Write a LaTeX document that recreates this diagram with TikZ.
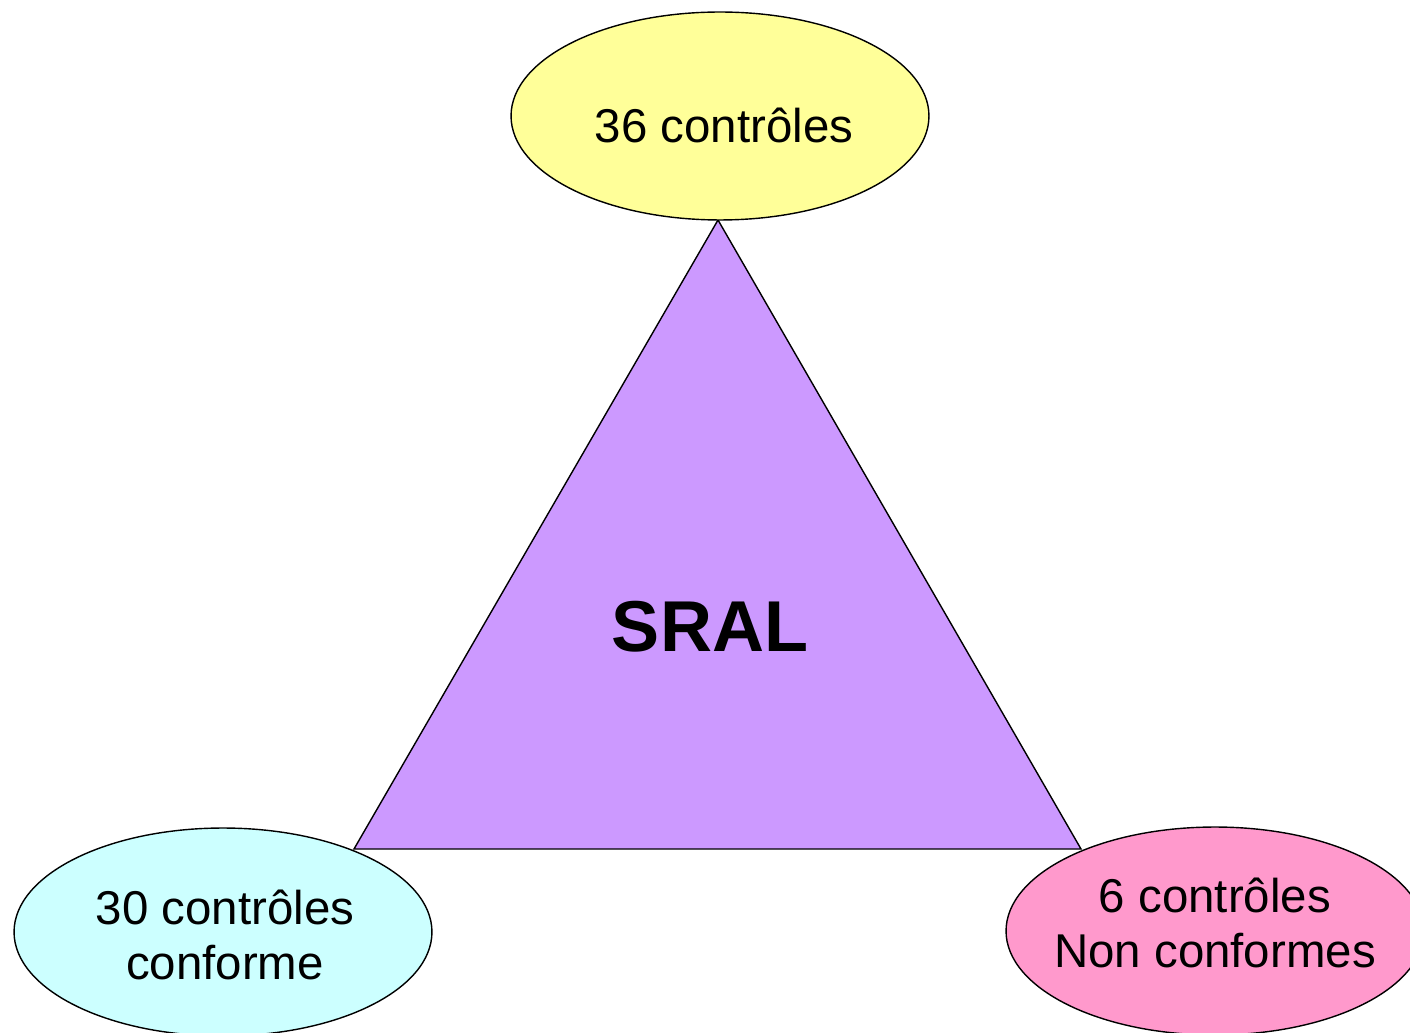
\documentclass[tikz,border=0pt]{standalone}
\usepackage{fontspec}
\setmainfont{Liberation Sans}
\usetikzlibrary{shapes.geometric}
\definecolor{topfill}{HTML}{FFFF99}
\definecolor{okfill}{HTML}{CCFFFF}
\definecolor{kofill}{HTML}{FF99CC}
\definecolor{sralfill}{HTML}{CC99FF}

\tikzset{
  bubble/.style={ellipse, draw, line width=0.8pt, inner sep=0pt,
    minimum width=8.36cm, minimum height=4.16cm},
  bubbletext/.style={align=center, inner sep=0pt,
    font=\fontsize{27}{31}\selectfont}
}

\begin{document}
\begin{tikzpicture}[x={(0.02cm,0)}, y={(0,-0.02cm)}]
    \useasboundingbox (0,0) rectangle (1410,1033);
    \clip (0,0) rectangle (1410,1033);
    \coordinate (apex) at (718,220);
    \coordinate (left) at (354,849);
    \coordinate (right) at (1081,849);
    \filldraw [sralfill, draw=black, line width=0.8pt] (apex) -- (left) -- (right) -- cycle;
    \node (sral) at (710,627) {\fontsize{41}{45}\selectfont\bfseries SRAL};
    \node [bubble, fill=topfill] (total) at (720,116) {};
    \node [bubble, fill=okfill] (ok) at (223,932) {};
    \node [bubble, fill=kofill] (ko) at (1215,931) {};
    \node [bubbletext] (totaltext) at (724,125) {36 contrôles};
    \node [bubbletext] (oktext) at (225,935) {30 contrôles\\conforme};
    \node [bubbletext] (kotext) at (1215,923) {6 contrôles\\Non conformes};
  \end{tikzpicture}
\end{document}
